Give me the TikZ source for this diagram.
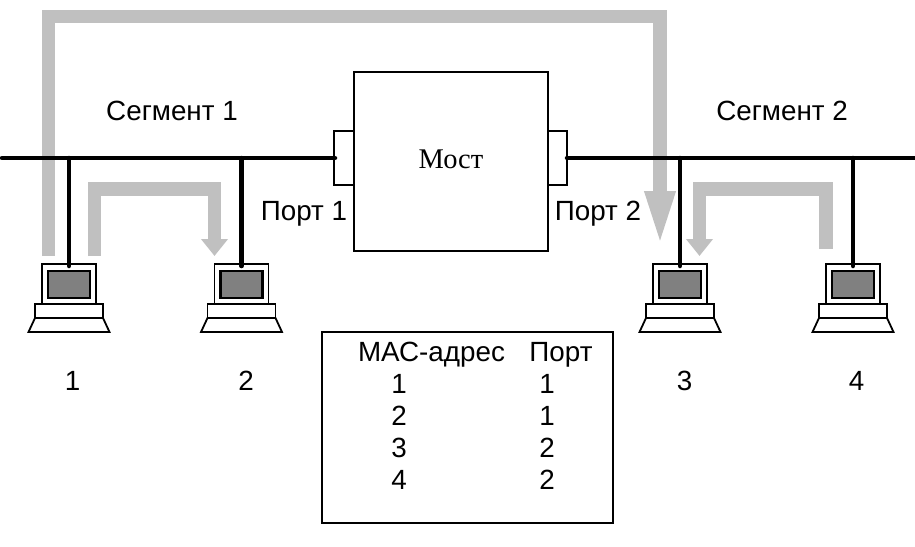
\documentclass[tikz,border=0pt]{standalone}
\usepackage{fontspec}
\setmainfont{Liberation Sans}
\newfontfamily\serifface{Liberation Serif}
\usetikzlibrary{arrows.meta}
\definecolor{flowgray}{HTML}{C0C0C0}
\definecolor{screengray}{HTML}{808080}
\tikzset{
  lbl/.style={inner sep=0pt,anchor=base,font=\fontsize{27.8}{30}\selectfont},
  box/.style={draw=black,line width=2pt,fill=white,line join=miter},
  bus/.style={draw=black,line width=4.5pt,line cap=round},
  flow/.style={draw=flowgray,line width=13.5pt,line join=miter},
  bigflow/.style={flow,-{Triangle[width=27pt,length=57pt]}},
  smallflow/.style={flow,-{Triangle[width=26pt,length=17pt]}},
  pcpart/.style={draw=black,line width=1.8pt,fill=white,line join=miter},
  pcscreen/.style={draw=black,line width=2.2pt,fill=screengray},
}
\newcommand{\laptop}[2]{%
  \begin{scope}[shift={(#1,0)}]
    \draw[pcpart] (-27,264) rectangle (27,304);
    \draw[pcscreen] (-21,271) rectangle (21,298);
    \draw[pcpart] (-34,304) rectangle (34,318);
    \draw[pcpart] (-34,318) -- (34,318) -- (40.5,332) -- (-40.5,332) -- cycle;
    \coordinate (#2) at (0,266);
  \end{scope}}
\begin{document}
\begin{tikzpicture}[x=1pt,y=-1pt]
\useasboundingbox (0,0) rectangle (915,546);
% gray traffic arrows
\coordinate (a1) at (48.5,256);
\coordinate (a2) at (48.5,16.5);
\coordinate (a3) at (660,16.5);
\coordinate (a4) at (660,248);
\draw[bigflow] (a1) -- (a2) -- (a3) -- (a4);
\coordinate (b1) at (94.5,256);
\coordinate (b2) at (94.5,189);
\coordinate (b3) at (214.5,189);
\coordinate (b4) at (214.5,256);
\draw[smallflow] (b1) -- (b2) -- (b3) -- (b4);
\coordinate (c1) at (826,249);
\coordinate (c2) at (826,189);
\coordinate (c3) at (699.5,189);
\coordinate (c4) at (699.5,256);
\draw[smallflow] (c1) -- (c2) -- (c3) -- (c4);
% bridge and ports
\draw[box] (334,131) rectangle (354,185);
\draw[box] (548,131) rectangle (567,185);
\draw[box] (354,72) rectangle (548,251);
\node[inner sep=0pt,anchor=base,font=\serifface\fontsize{28.5}{30}\selectfont] (bridge) at (451,168) {Мост};
\coordinate (pl) at (335,158);
\coordinate (pr) at (567,158);
% hosts
\laptop{69}{h1}
\laptop{241.5}{h2}
\laptop{680}{h3}
\laptop{853}{h4}
% buses
\coordinate (w) at (2,158);
\coordinate (e) at (915,158);
\coordinate (t1) at (69,158);
\coordinate (t2) at (241.5,158);
\coordinate (t3) at (680,158);
\coordinate (t4) at (853,158);
\draw[bus] (w) -- (pl);
\draw[bus] (pr) -- (e);
\draw[bus] (t1) -- (h1);
\draw[bus] (t2) -- (h2);
\draw[bus] (t3) -- (h3);
\draw[bus] (t4) -- (h4);
% labels
\node[lbl] (s1) at (172,120) {Сегмент 1};
\node[lbl] (s2) at (782,120) {Сегмент 2};
\node[lbl] (p1) at (304,220) {Порт 1};
\node[lbl] (p2) at (598,220) {Порт 2};
\node[lbl] (n1) at (72.5,390) {1};
\node[lbl] (n2) at (246,390) {2};
\node[lbl] (n3) at (684.5,390) {3};
\node[lbl] (n4) at (856.5,390) {4};
% table
\draw[box] (321.5,331.5) rectangle (613,523);
\node[lbl] (th1) at (431.5,361) {МАС-адрес};
\node[lbl] (th2) at (561,361) {Порт};
\node[lbl] (r1a) at (399,393) {1};
\node[lbl] (r2a) at (399,425) {2};
\node[lbl] (r3a) at (399,457) {3};
\node[lbl] (r4a) at (399,489) {4};
\node[lbl] (r1b) at (547,393) {1};
\node[lbl] (r2b) at (547,425) {1};
\node[lbl] (r3b) at (547,457) {2};
\node[lbl] (r4b) at (547,489) {2};
\end{tikzpicture}
\end{document}
